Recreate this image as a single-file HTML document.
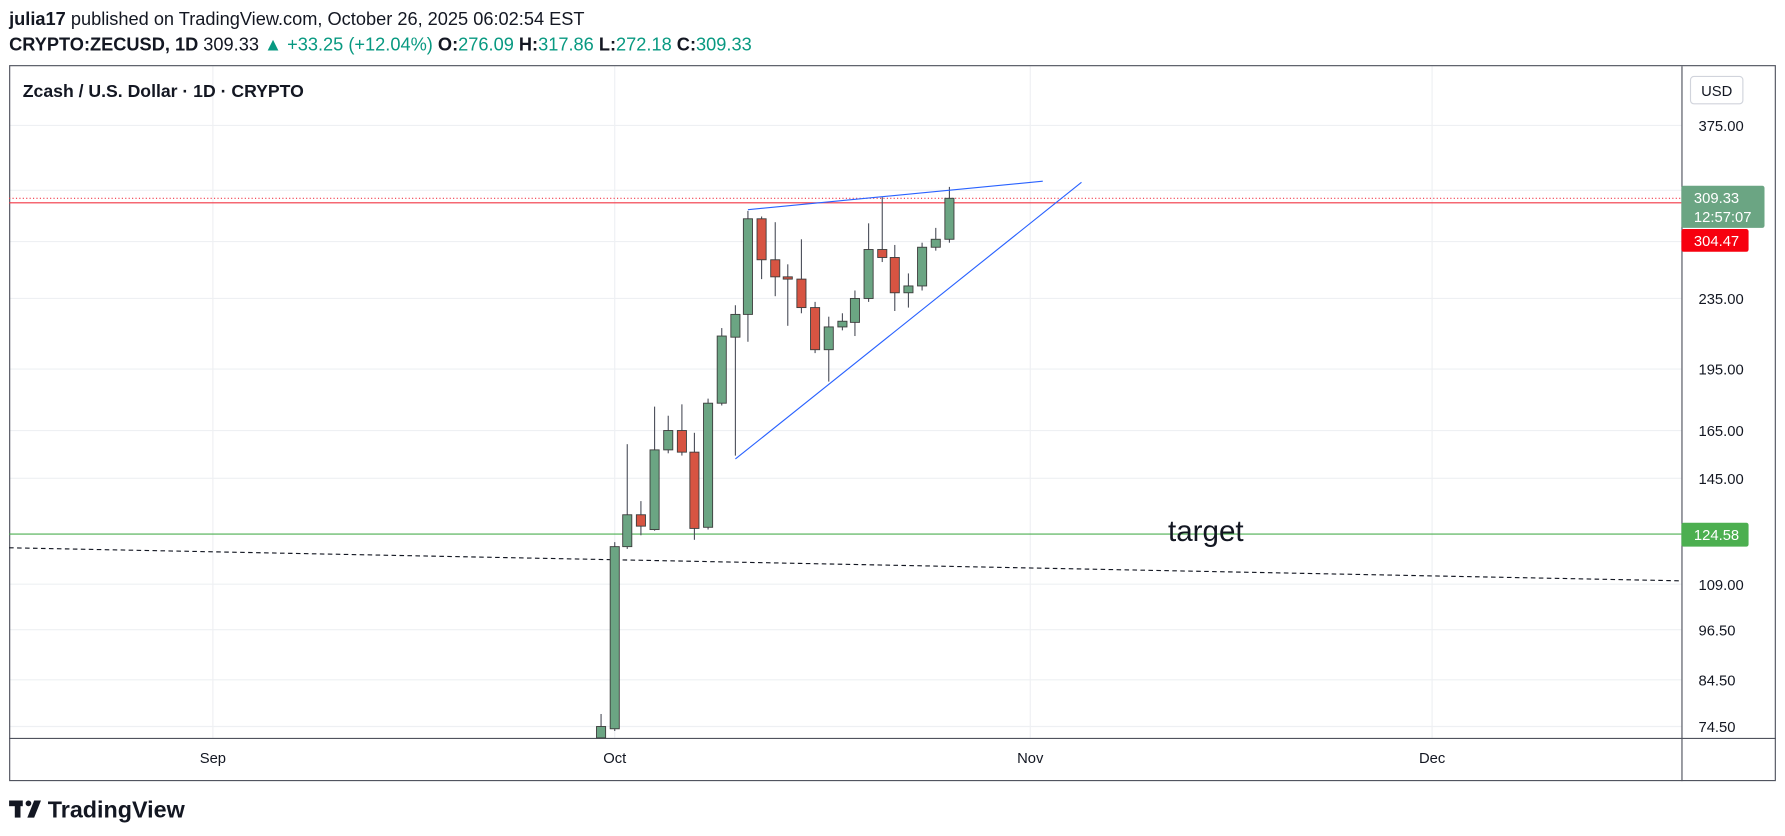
<!DOCTYPE html>
<html><head><meta charset="utf-8"><style>
html,body{margin:0;padding:0;background:#fff;}
svg{display:block;font-family:"Liberation Sans",Arial,sans-serif;}
</style></head><body>
<svg width="1785" height="836" viewBox="0 0 1568 734" xmlns="http://www.w3.org/2000/svg">
<rect width="1568" height="734" fill="#fff"/>
<text x="8" y="22" font-size="16" fill="#131722"><tspan font-weight="bold">julia17</tspan> published on TradingView.com, October 26, 2025 06:02:54 EST</text>
<text x="8" y="44" font-size="16" fill="#131722"><tspan font-weight="bold">CRYPTO:ZECUSD, 1D</tspan> 309.33 <tspan fill="#089981">▲ +33.25 (+12.04%)</tspan> <tspan font-weight="bold">O:</tspan><tspan fill="#089981">276.09</tspan> <tspan font-weight="bold">H:</tspan><tspan fill="#089981">317.86</tspan> <tspan font-weight="bold">L:</tspan><tspan fill="#089981">272.18</tspan> <tspan font-weight="bold">C:</tspan><tspan fill="#089981">309.33</tspan></text>
<g stroke="#eef0f3" stroke-width="1">
<line x1="8" x2="1477" y1="110" y2="110"/><line x1="8" x2="1477" y1="167" y2="167"/><line x1="8" x2="1477" y1="212" y2="212"/>
<line x1="8" x2="1477" y1="262" y2="262"/><line x1="8" x2="1477" y1="324" y2="324"/><line x1="8" x2="1477" y1="378" y2="378"/>
<line x1="8" x2="1477" y1="420" y2="420"/><line x1="8" x2="1477" y1="513" y2="513"/><line x1="8" x2="1477" y1="553" y2="553"/>
<line x1="8" x2="1477" y1="597" y2="597"/><line x1="8" x2="1477" y1="638" y2="638"/>
<line x1="187" x2="187" y1="58" y2="648"/><line x1="540" x2="540" y1="58" y2="648"/><line x1="905" x2="905" y1="58" y2="648"/><line x1="1258" x2="1258" y1="58" y2="648"/>
</g>
<rect x="8.5" y="57.5" width="1551" height="628" fill="none" stroke="#50535e" stroke-width="1"/>
<line x1="1477.5" x2="1477.5" y1="58" y2="686" stroke="#50535e"/>
<line x1="8" x2="1560" y1="648.5" y2="648.5" stroke="#50535e"/>
<text x="20" y="85" font-size="15.5" font-weight="bold" fill="#131722">Zcash / U.S. Dollar · 1D · CRYPTO</text>
<line x1="8" x2="1477" y1="174" y2="174" stroke="#f23645" stroke-dasharray="1,2"/>
<line x1="8" x2="1477" y1="178" y2="178" stroke="#f23645"/>
<line x1="8" x2="1477" y1="469" y2="469" stroke="#4caf50"/>
<line x1="8" x2="1475" y1="481" y2="510" stroke="#131722" stroke-dasharray="4,3"/>
<text x="1026" y="475" font-size="26" fill="#131722">target</text>
<g stroke="#50535e" stroke-width="1">
<line x1="528" x2="528" y1="627" y2="648"/><line x1="540" x2="540" y1="476" y2="642"/><line x1="551" x2="551" y1="390" y2="482"/>
<line x1="563" x2="563" y1="440" y2="470"/><line x1="575" x2="575" y1="357" y2="466"/><line x1="587" x2="587" y1="365" y2="398"/>
<line x1="599" x2="599" y1="355" y2="400"/><line x1="610" x2="610" y1="380" y2="474"/><line x1="622" x2="622" y1="350" y2="465"/>
<line x1="634" x2="634" y1="288" y2="356"/><line x1="646" x2="646" y1="268" y2="400"/><line x1="657" x2="657" y1="185" y2="300"/>
<line x1="669" x2="669" y1="190" y2="245"/><line x1="681" x2="681" y1="195" y2="260"/><line x1="692" x2="692" y1="232" y2="286"/>
<line x1="704" x2="704" y1="210" y2="275"/><line x1="716" x2="716" y1="265" y2="310"/><line x1="728" x2="728" y1="278" y2="335"/>
<line x1="740" x2="740" y1="275" y2="290"/><line x1="751" x2="751" y1="255" y2="295"/><line x1="763" x2="763" y1="196" y2="265"/>
<line x1="775" x2="775" y1="173" y2="230"/><line x1="786" x2="786" y1="215" y2="273"/><line x1="798" x2="798" y1="240" y2="270"/>
<line x1="810" x2="810" y1="213" y2="255"/><line x1="822" x2="822" y1="200" y2="220"/><line x1="834" x2="834" y1="164" y2="213"/>
</g>
<g stroke="#3d3d3d" stroke-width="0.8">
<rect x="524" y="638" width="8" height="10" fill="#6ba583"/>
<rect x="536" y="480" width="8" height="160" fill="#6ba583"/>
<rect x="547" y="452" width="8" height="28" fill="#6ba583"/>
<rect x="559" y="452" width="8" height="10" fill="#d75442"/>
<rect x="571" y="395" width="8" height="70" fill="#6ba583"/>
<rect x="583" y="378" width="8" height="17" fill="#6ba583"/>
<rect x="595" y="378" width="8" height="19" fill="#d75442"/>
<rect x="606" y="397" width="8" height="67" fill="#d75442"/>
<rect x="618" y="354" width="8" height="109" fill="#6ba583"/>
<rect x="630" y="295" width="8" height="59" fill="#6ba583"/>
<rect x="642" y="276" width="8" height="20" fill="#6ba583"/>
<rect x="653" y="192" width="8" height="84" fill="#6ba583"/>
<rect x="665" y="192" width="8" height="36" fill="#d75442"/>
<rect x="677" y="228" width="8" height="15" fill="#d75442"/>
<rect x="688" y="243" width="8" height="2" fill="#d75442"/>
<rect x="700" y="245" width="8" height="25" fill="#d75442"/>
<rect x="712" y="270" width="8" height="37" fill="#d75442"/>
<rect x="724" y="287" width="8" height="20" fill="#6ba583"/>
<rect x="736" y="282" width="8" height="5" fill="#6ba583"/>
<rect x="747" y="262" width="8" height="21" fill="#6ba583"/>
<rect x="759" y="219" width="8" height="43" fill="#6ba583"/>
<rect x="771" y="219" width="8" height="7" fill="#d75442"/>
<rect x="782" y="226" width="8" height="31" fill="#d75442"/>
<rect x="794" y="251" width="8" height="6" fill="#6ba583"/>
<rect x="806" y="217" width="8" height="34" fill="#6ba583"/>
<rect x="818" y="210" width="8" height="7" fill="#6ba583"/>
<rect x="830" y="174" width="8" height="36" fill="#6ba583"/>
</g>
<g stroke="#2962ff" stroke-width="1" fill="none">
<line x1="657" y1="184" x2="916" y2="159"/>
<line x1="646" y1="403" x2="950" y2="160"/>
</g>
<rect x="1485" y="67" width="46" height="24" rx="3" fill="#fff" stroke="#d1d4dc"/>
<text x="1508" y="84" font-size="13" fill="#131722" text-anchor="middle">USD</text>
<g font-size="13" fill="#131722">
<text x="1492" y="115">375.00</text><text x="1492" y="267">235.00</text><text x="1492" y="329">195.00</text>
<text x="1492" y="383">165.00</text><text x="1492" y="425">145.00</text><text x="1492" y="518">109.00</text>
<text x="1492" y="558">96.50</text><text x="1492" y="602">84.50</text><text x="1492" y="643">74.50</text>
</g>
<rect x="1477" y="163" width="73" height="37" rx="2" fill="#6ba583"/>
<text x="1488" y="178" font-size="13" fill="#fff">309.33</text>
<text x="1488" y="195" font-size="13" fill="#fff">12:57:07</text>
<rect x="1477" y="201" width="59" height="20" rx="2" fill="#f7000e"/>
<text x="1488" y="216" font-size="13" fill="#fff">304.47</text>
<rect x="1477" y="459" width="59" height="21" rx="2" fill="#4caf50"/>
<text x="1488" y="474" font-size="13" fill="#fff">124.58</text>
<g font-size="13" fill="#131722" text-anchor="middle">
<text x="187" y="670">Sep</text><text x="540" y="670">Oct</text><text x="905" y="670">Nov</text><text x="1258" y="670">Dec</text>
</g>
<g fill="#131722">
<rect x="8" y="703" width="12" height="5"/><rect x="13" y="703" width="5" height="15"/>
<circle cx="25" cy="705.5" r="2.5"/><path d="M30 703 L36 703 L30 718 L24 718 Z"/>
</g>
<text x="42" y="718" font-size="20.5" font-weight="bold" fill="#131722">TradingView</text>
</svg>
</body></html>
